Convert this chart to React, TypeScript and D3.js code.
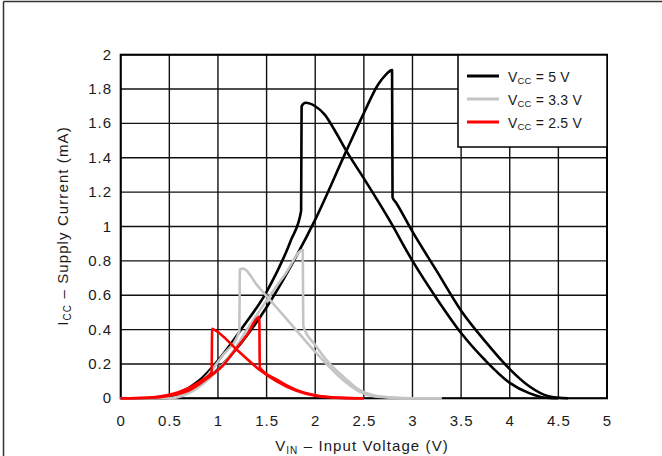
import React from "react";
import * as d3 from "d3";

const W = 662;
const H = 456;

const xTicks = [0, 0.5, 1, 1.5, 2, 2.5, 3, 3.5, 4, 4.5, 5];
const yTicks = [0, 0.2, 0.4, 0.6, 0.8, 1, 1.2, 1.4, 1.6, 1.8, 2];
const yTickLabels = ["0", "0.2", "0.4", "0.6", "0.8", "1", "1.2", "1.4", "1.6", "1.8", "2"];

type Pt = [number, number];

// VCC = 5 V : loop with upward jump at ~1.86 V
const vcc5LoopA: Pt[] = [
  [0, 0], [0.4, 0], [0.6, 0.03], [0.8, 0.1], [1.0, 0.22], [1.25, 0.41], [1.5, 0.62],
  [1.75, 0.92], [1.855, 1.09], [1.86, 1.7], [1.9, 1.72], [2.0, 1.7], [2.1, 1.65],
  [2.2, 1.56], [2.32, 1.44], [2.5, 1.28], [2.75, 1.05], [3.0, 0.8], [3.25, 0.58],
  [3.5, 0.38], [3.75, 0.22], [4.0, 0.09], [4.2, 0.03], [4.35, 0.005], [4.5, 0],
];
// VCC = 5 V : loop with downward drop at ~2.8 V
const vcc5LoopB: Pt[] = [
  [0, 0], [0.45, 0], [0.6, 0.02], [0.8, 0.07], [1.0, 0.17], [1.25, 0.33], [1.5, 0.53],
  [1.75, 0.77], [2.0, 1.04], [2.32, 1.44], [2.5, 1.66], [2.65, 1.83], [2.72, 1.88],
  [2.79, 1.91], [2.795, 1.17], [2.83, 1.14], [3.0, 0.97], [3.25, 0.74], [3.5, 0.51],
  [3.75, 0.33], [4.0, 0.17], [4.2, 0.07], [4.4, 0.012], [4.6, 0],
];
// VCC = 3.3 V
const vcc33LoopA: Pt[] = [
  [0, 0], [0.5, 0], [0.7, 0.04], [0.9, 0.14], [1.05, 0.25], [1.22, 0.39], [1.225, 0.75],
  [1.26, 0.755], [1.4, 0.66], [1.6, 0.53], [1.8, 0.4], [2.0, 0.27], [2.15, 0.18],
  [2.3, 0.1], [2.45, 0.04], [2.6, 0.012], [2.8, 0.003], [3.0, 0], [3.3, 0],
];
const vcc33LoopB: Pt[] = [
  [0, 0], [0.5, 0], [0.7, 0.03], [0.9, 0.11], [1.1, 0.23], [1.3, 0.4], [1.5, 0.57],
  [1.7, 0.73], [1.872, 0.863], [1.877, 0.42], [2.0, 0.31], [2.15, 0.2], [2.3, 0.12],
  [2.45, 0.05], [2.6, 0.018], [2.8, 0.004], [3.0, 0], [3.3, 0],
];
// VCC = 2.5 V
const vcc25LoopA: Pt[] = [
  [0, 0], [0.3, 0.005], [0.5, 0.02], [0.7, 0.06], [0.85, 0.11], [0.935, 0.15],
  [0.94, 0.405], [0.96, 0.4], [1.2, 0.28], [1.43, 0.165], [1.6, 0.1], [1.8, 0.045],
  [2.0, 0.015], [2.2, 0.004], [2.5, 0],
];
const vcc25LoopB: Pt[] = [
  [0, 0], [0.3, 0.003], [0.5, 0.015], [0.7, 0.045], [0.9, 0.12], [1.05, 0.19],
  [1.175, 0.28], [1.3, 0.37], [1.425, 0.474], [1.43, 0.18], [1.6, 0.11], [1.8, 0.05],
  [2.0, 0.018], [2.2, 0.005], [2.5, 0],
];

const seriesNames = ["5 V", "3.3 V", "2.5 V"];
const seriesColors = ["#000000", "#c4c4c4", "#ff0000"];
const seriesLoops = [
  [vcc5LoopA, vcc5LoopB],
  [vcc33LoopA, vcc33LoopB],
  [vcc25LoopA, vcc25LoopB],
];

const FONT = "'Liberation Sans', Arial, sans-serif";
const TXT = "#1a1a1a";

export default function App() {
  const x = d3.scaleLinear().domain([0, 5]).range([120.7, 607]);
  const y = d3.scaleLinear().domain([0, 2]).range([398.3, 54.7]);
  const line = d3
    .line<Pt>()
    .x((d) => x(d[0]))
    .y((d) => y(d[1]))
    .curve(d3.curveMonotoneX);

  const legX = 458;
  const legY = 55;
  const legW = 149;
  const legH = 92;

  return (
    <svg
      width={W}
      height={H}
      style={{ position: "absolute", left: 0, top: 0, background: "#fff" }}
      fontFamily={FONT}
    >
      <rect x={0} y={0} width={W} height={H} fill="#fff" />
      {/* outer frame */}
      <line x1={3.5} y1={1.5} x2={W} y2={1.5} stroke="#333" strokeWidth={1.5} />
      <line x1={3.5} y1={1.5} x2={3.5} y2={H} stroke="#333" strokeWidth={1.5} />

      {/* grid */}
      {xTicks.map((t) => (
        <line key={"gx" + t} x1={x(t)} x2={x(t)} y1={y(0)} y2={y(2)} stroke="#111" strokeWidth={1.4} />
      ))}
      {yTicks.map((t) => (
        <line key={"gy" + t} x1={x(0)} x2={x(5)} y1={y(t)} y2={y(t)} stroke="#111" strokeWidth={1.4} />
      ))}
      <rect
        x={x(0)}
        y={y(2)}
        width={x(5) - x(0)}
        height={y(0) - y(2)}
        fill="none"
        stroke="#000"
        strokeWidth={2}
      />

      {/* curves */}
      {seriesLoops.map((loops, i) =>
        loops.map((pts, j) => (
          <path
            key={"c" + i + "-" + j}
            d={line(pts) || ""}
            fill="none"
            stroke={seriesColors[i]}
            strokeWidth={2.6}
            strokeLinejoin="round"
          />
        ))
      )}

      {/* tick labels */}
      {xTicks.map((t) => (
        <text key={"tx" + t} x={x(t) + 0.5} y={426} textAnchor="middle" fontSize={15} letterSpacing={1} fill={TXT}>
          {String(t)}
        </text>
      ))}
      {yTicks.map((t, i) => (
        <text key={"ty" + t} x={112} y={y(t) + 5} textAnchor="end" fontSize={15} letterSpacing={1} fill={TXT}>
          {yTickLabels[i]}
        </text>
      ))}

      {/* axis titles */}
      <text x={362} y={451} textAnchor="middle" fontSize={15} letterSpacing={1.1} fill={TXT}>
        V<tspan fontSize={10} dy={3}>IN</tspan>
        <tspan dy={-3}> – Input Voltage (V)</tspan>
      </text>
      <text
        transform={`translate(68, 226) rotate(-90)`}
        textAnchor="middle"
        fontSize={15}
        letterSpacing={1.1}
        fill={TXT}
      >
        I<tspan fontSize={10} dy={3}>CC</tspan>
        <tspan dy={-3}> – Supply Current (mA)</tspan>
      </text>

      {/* legend */}
      <rect x={legX} y={legY} width={legW} height={legH} fill="#fff" stroke="#000" strokeWidth={1.5} />
      {seriesNames.map((name, i) => {
        const ly = 76 + i * 23;
        return (
          <g key={"lg" + i}>
            <line x1={467} x2={499} y1={ly} y2={ly} stroke={seriesColors[i]} strokeWidth={3} />
            <text x={508} y={ly + 5.5} fontSize={14} letterSpacing={0.2} fill={TXT}>
              V<tspan fontSize={9.5} dy={2}>CC</tspan>
              <tspan dy={-2}>{" = " + name}</tspan>
            </text>
          </g>
        );
      })}
    </svg>
  );
}
